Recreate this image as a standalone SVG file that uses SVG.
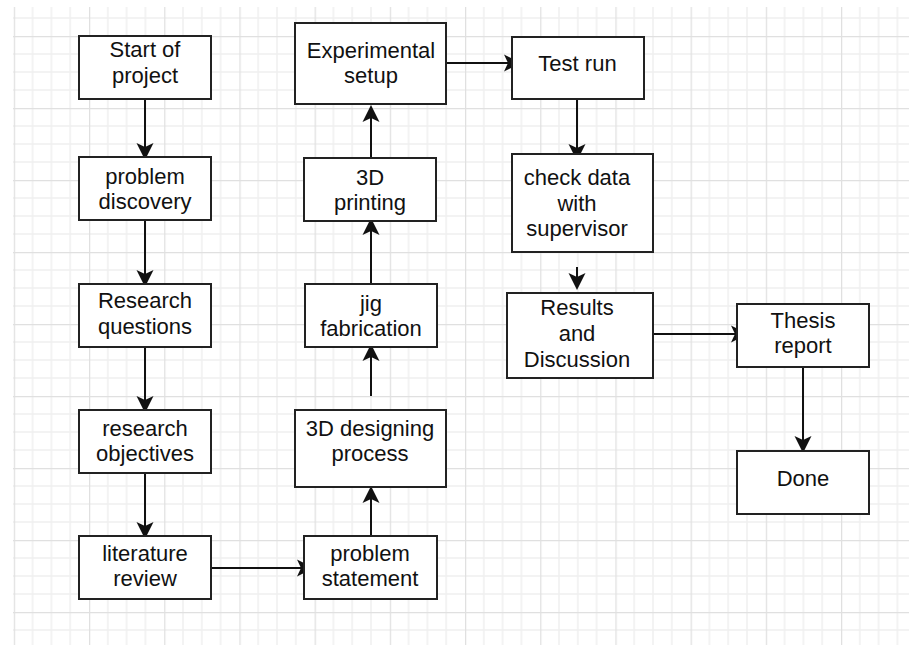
<svg xmlns="http://www.w3.org/2000/svg" width="909" height="645" viewBox="0 0 909 645">
  <defs>
    <pattern id="grid" patternUnits="userSpaceOnUse" x="13.8" y="36" width="75.2" height="72">
      <path d="M18.8,0 V72 M37.6,0 V72 M56.4,0 V72 M0,18 H75.2 M0,36 H75.2 M0,54 H75.2" fill="none" stroke="#efefef" stroke-width="1.5"/>
      <path d="M0.5,0 V72 M0,0.5 H75.2" fill="none" stroke="#e0e0e0" stroke-width="1.5"/>
    </pattern>
    <marker id="arrow" markerUnits="userSpaceOnUse" markerWidth="20" markerHeight="20" refX="14" refY="8.5" orient="auto" overflow="visible">
      <path d="M0,0 L17,8.5 L0,17 L4,8.5 Z" fill="#111"/>
    </marker>
  </defs>
  <style>
    .box { fill: #ffffff; stroke: #222222; stroke-width: 2; }
    .lbl { font-family: "Liberation Sans", Arial, sans-serif; font-size: 22px; fill: #111111; text-anchor: middle; }
    .conn { fill: none; stroke: #111111; stroke-width: 2; marker-end: url(#arrow); }
  </style>
  <rect width="909" height="645" fill="#ffffff"/>
  <rect x="13" y="7" width="896" height="638" fill="url(#grid)"/>

  <g id="connectors">
    <line class="conn" x1="145" y1="99" x2="145" y2="157"/>
    <line class="conn" x1="145" y1="217" x2="145" y2="284"/>
    <line class="conn" x1="145" y1="347" x2="145" y2="410"/>
    <line class="conn" x1="145" y1="468" x2="145" y2="536"/>
    <line class="conn" x1="202" y1="568" x2="311" y2="568"/>
    <line class="conn" x1="371" y1="537" x2="371" y2="489"/>
    <line class="conn" x1="371" y1="396" x2="371" y2="347"/>
    <line class="conn" x1="371" y1="284" x2="371" y2="221"/>
    <line class="conn" x1="371" y1="158" x2="371" y2="108"/>
    <line class="conn" x1="433" y1="63" x2="518" y2="63"/>
    <line class="conn" x1="577" y1="91" x2="577" y2="158"/>
    <line class="conn" x1="577" y1="267" x2="577" y2="287"/>
    <line class="conn" x1="634" y1="334" x2="745" y2="334"/>
    <line class="conn" x1="803" y1="361" x2="803" y2="450"/>
  </g>

  <g id="start">
    <rect class="box" x="79" y="36" width="132" height="63"/>
    <text class="lbl" x="145" y="57">Start of</text>
    <text class="lbl" x="145" y="83">project</text>
  </g>
  <g id="problem-discovery">
    <rect class="box" x="79" y="157" width="132" height="63"/>
    <text class="lbl" x="145" y="184">problem</text>
    <text class="lbl" x="145" y="209">discovery</text>
  </g>
  <g id="research-questions">
    <rect class="box" x="79" y="284" width="132" height="63"/>
    <text class="lbl" x="145" y="308">Research</text>
    <text class="lbl" x="145" y="334">questions</text>
  </g>
  <g id="research-objectives">
    <rect class="box" x="79" y="410" width="132" height="63"/>
    <text class="lbl" x="145" y="436">research</text>
    <text class="lbl" x="145" y="461">objectives</text>
  </g>
  <g id="literature-review">
    <rect class="box" x="79" y="536" width="132" height="63"/>
    <text class="lbl" x="145" y="561">literature</text>
    <text class="lbl" x="145" y="586">review</text>
  </g>
  <g id="problem-statement">
    <rect class="box" x="304" y="536" width="133" height="63"/>
    <text class="lbl" x="370" y="561">problem</text>
    <text class="lbl" x="370" y="586">statement</text>
  </g>
  <g id="designing">
    <rect class="box" x="295" y="410" width="151" height="77"/>
    <text class="lbl" x="370" y="436">3D designing</text>
    <text class="lbl" x="370" y="461">process</text>
  </g>
  <g id="jig">
    <rect class="box" x="305" y="284" width="132" height="63"/>
    <text class="lbl" x="371" y="311">jig</text>
    <text class="lbl" x="371" y="336">fabrication</text>
  </g>
  <g id="printing">
    <rect class="box" x="304" y="158" width="132" height="63"/>
    <text class="lbl" x="370" y="185">3D</text>
    <text class="lbl" x="370" y="210">printing</text>
  </g>
  <g id="experimental-setup">
    <rect class="box" x="295" y="23" width="151" height="81"/>
    <text class="lbl" x="371" y="58">Experimental</text>
    <text class="lbl" x="371" y="83">setup</text>
  </g>
  <g id="test-run">
    <rect class="box" x="512" y="37" width="132" height="62"/>
    <text class="lbl" x="577.5" y="71">Test run</text>
  </g>
  <g id="check-data">
    <rect class="box" x="512" y="154" width="141" height="98"/>
    <text class="lbl" x="577" y="185">check data</text>
    <text class="lbl" x="577" y="211">with</text>
    <text class="lbl" x="577" y="236">supervisor</text>
  </g>
  <g id="results">
    <rect class="box" x="507" y="293" width="146" height="85"/>
    <text class="lbl" x="577" y="315">Results</text>
    <text class="lbl" x="577" y="341">and</text>
    <text class="lbl" x="577" y="367">Discussion</text>
  </g>
  <g id="thesis">
    <rect class="box" x="737" y="304" width="132" height="63"/>
    <text class="lbl" x="803" y="328">Thesis</text>
    <text class="lbl" x="803" y="353">report</text>
  </g>
  <g id="done">
    <rect class="box" x="737" y="451" width="132" height="63"/>
    <text class="lbl" x="803" y="486">Done</text>
  </g>
</svg>
